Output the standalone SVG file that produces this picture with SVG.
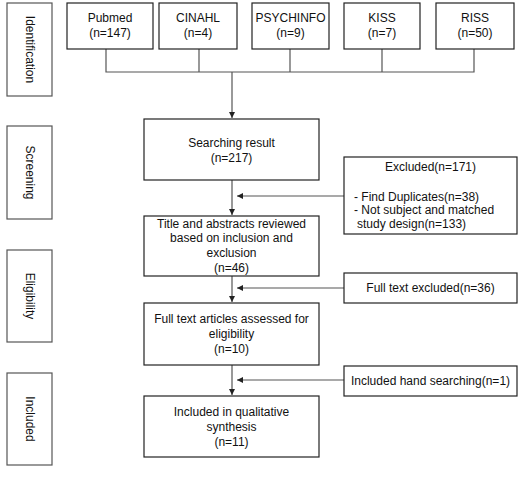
<svg xmlns="http://www.w3.org/2000/svg" width="525" height="477" viewBox="0 0 525 477">
<style>
text{font-family:"Liberation Sans",Arial,sans-serif;font-size:12px;fill:#111}
.c{text-anchor:middle}
.box{fill:#fff;stroke:#222;stroke-width:1.2}
.side{fill:#fff;stroke:#555;stroke-width:1.2}
.ln{fill:none;stroke:#555;stroke-width:1.2}
</style>
<defs>
<marker id="ah" viewBox="0 0 10 10" refX="10" refY="5" markerWidth="6" markerHeight="6" orient="auto" markerUnits="userSpaceOnUse">
<path d="M0,0 L10,5 L0,10 z" fill="#222"/>
</marker>
</defs>
<rect width="525" height="477" fill="#fff"/>
<g id="stage-identification"><rect class="side" x="7" y="3" width="45" height="93"/><text class="c" transform="translate(26,49.5) rotate(90)">Identification</text></g>
<g id="stage-screening"><rect class="side" x="7" y="126" width="45" height="93"/><text class="c" transform="translate(26,172.5) rotate(90)">Screening</text></g>
<g id="stage-eligibility"><rect class="side" x="7" y="250" width="45" height="92"/><text class="c" transform="translate(26,296) rotate(90)">Eligibility</text></g>
<g id="stage-included"><rect class="side" x="7" y="373" width="45" height="92"/><text class="c" transform="translate(26,419) rotate(90)">Included</text></g>

<g id="connectors">
<path class="ln" d="M106,49V72H474V49M199,49V72M290,49V72M382,49V72"/>
<path class="ln" d="M232,72V118" marker-end="url(#ah)"/>
<path class="ln" d="M232,180V215" marker-end="url(#ah)"/>
<path class="ln" d="M232,276V302" marker-end="url(#ah)"/>
<path class="ln" d="M232,365V395" marker-end="url(#ah)"/>
<path class="ln" d="M344,196H237" marker-end="url(#ah)"/>
<path class="ln" d="M344,288H237" marker-end="url(#ah)"/>
<path class="ln" d="M344,380H237" marker-end="url(#ah)"/>
</g>

<g id="pubmed"><rect class="box" x="67" y="3" width="86" height="46"/><text class="c" x="110" y="22">Pubmed</text><text class="c" x="110" y="37">(n=147)</text></g>
<g id="cinahl"><rect class="box" x="159" y="3" width="78" height="46"/><text class="c" x="198" y="22">CINAHL</text><text class="c" x="198" y="37">(n=4)</text></g>
<g id="psychinfo"><rect class="box" x="252" y="3" width="77" height="46"/><text class="c" x="290.5" y="22">PSYCHINFO</text><text class="c" x="290.5" y="37">(n=9)</text></g>
<g id="kiss"><rect class="box" x="344" y="3" width="76" height="46"/><text class="c" x="382" y="22">KISS</text><text class="c" x="382" y="37">(n=7)</text></g>
<g id="riss"><rect class="box" x="436" y="3" width="78" height="46"/><text class="c" x="475" y="22">RISS</text><text class="c" x="475" y="37">(n=50)</text></g>

<g id="searching"><rect class="box" x="144" y="119" width="175" height="61"/><text class="c" x="231.5" y="147">Searching result</text><text class="c" x="231.5" y="162">(n=217)</text></g>
<g id="title-abstract"><rect class="box" x="144" y="216" width="175" height="60"/><text class="c" x="231.5" y="228">Title and abstracts reviewed</text><text class="c" x="231.5" y="242">based on inclusion and</text><text class="c" x="231.5" y="257">exclusion</text><text class="c" x="231.5" y="272">(n=46)</text></g>
<g id="fulltext"><rect class="box" x="144" y="303" width="175" height="62"/><text class="c" x="231.5" y="323">Full text articles assessed for</text><text class="c" x="231.5" y="338">eligibility</text><text class="c" x="231.5" y="353">(n=10)</text></g>
<g id="included"><rect class="box" x="144" y="396" width="175" height="61"/><text class="c" x="231.5" y="416">Included in qualitative</text><text class="c" x="231.5" y="431">synthesis</text><text class="c" x="231.5" y="446">(n=11)</text></g>

<g id="excluded"><rect class="box" x="344" y="157" width="173" height="77"/><text class="c" x="430.5" y="171">Excluded(n=171)</text><text x="354" y="201">- Find Duplicates(n=38)</text><text x="354" y="214">- Not subject and matched</text><text x="357" y="228">study design(n=133)</text></g>
<g id="fulltext-excluded"><rect class="box" x="344" y="273" width="173" height="30"/><text class="c" x="430.5" y="292">Full text excluded(n=36)</text></g>
<g id="hand-searching"><rect class="box" x="344" y="366" width="173" height="30"/><text class="c" x="430.5" y="385">Included hand searching(n=1)</text></g>
</svg>
